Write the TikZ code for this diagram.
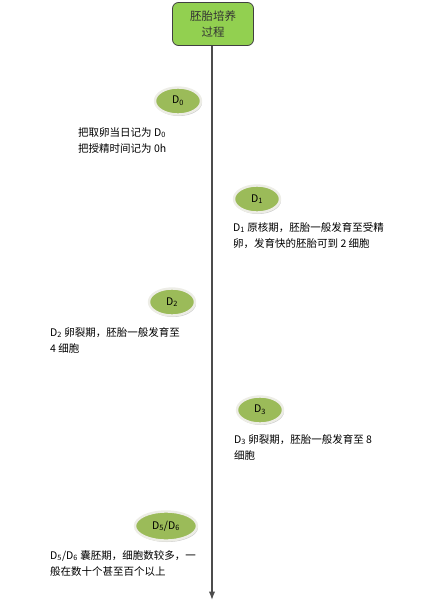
\documentclass[tikz,border=0pt]{standalone}
\usepackage{fontspec}
\setmainfont{Noto Sans CJK SC}
\usetikzlibrary{positioning,arrows.meta,shapes.geometric,shadows}
\definecolor{boxgreen}{HTML}{92D050}
\definecolor{olive}{HTML}{9BBB59}
\definecolor{rim}{HTML}{EDEDE6}

\begin{document}
\begin{tikzpicture}[x=1pt,y=-1pt,font=\fontsize{10.5}{16}\selectfont,>=Latex]
\tikzstyle{startbox}=[draw=black!75,rounded corners=6pt,fill=boxgreen,
  minimum width=81pt,minimum height=43pt,align=center,line width=0.8pt,
  font=\fontsize{11.5}{16}\selectfont,text=black!80]
\tikzstyle{day}=[ellipse,fill=olive,draw=rim,line width=2.4pt,
  minimum width=46pt,minimum height=27pt,inner sep=0pt,
  drop shadow={shadow xshift=1pt,shadow yshift=-1.5pt,opacity=0.4}]
\tikzstyle{note}=[anchor=north west,align=left,inner sep=0pt]

\useasboundingbox (0,0) rectangle (447,603);

\node[startbox] (start) at (213,24) {胚胎培养\\过程};
\coordinate (end) at (212,600);
\draw[->,black!70,line width=1.2pt] (start.south -| end) -- (end);

% day nodes
\node[day] (d0) at (178,101) {D\textsubscript{0}};
\node[day] (d1) at (257,199) {D\textsubscript{1}};
\node[day] (d2) at (172,302) {D\textsubscript{2}};
\node[day] (d3) at (260,410) {D\textsubscript{3}};
\node[day,minimum width=62pt,minimum height=29pt] (d5) at (166,526)
  {D\textsubscript{5}/D\textsubscript{6}};

% notes
\node[note] (t0) at (78,127) {把取卵当日记为 D\textsubscript{0}\\把授精时间记为 0h};
\node[note] (t1) at (233,222) {D\textsubscript{1} 原核期，胚胎一般发育至受精\\卵，发育快的胚胎可到 2 细胞};
\node[note] (t2) at (50,327) {D\textsubscript{2} 卵裂期，胚胎一般发育至\\4 细胞};
\node[note] (t3) at (234,434) {D\textsubscript{3} 卵裂期，胚胎一般发育至 8\\细胞};
\node[note] (t5) at (50,550) {D\textsubscript{5}/D\textsubscript{6} 囊胚期，细胞数较多，一\\般在数十个甚至百个以上};
\end{tikzpicture}
\end{document}
